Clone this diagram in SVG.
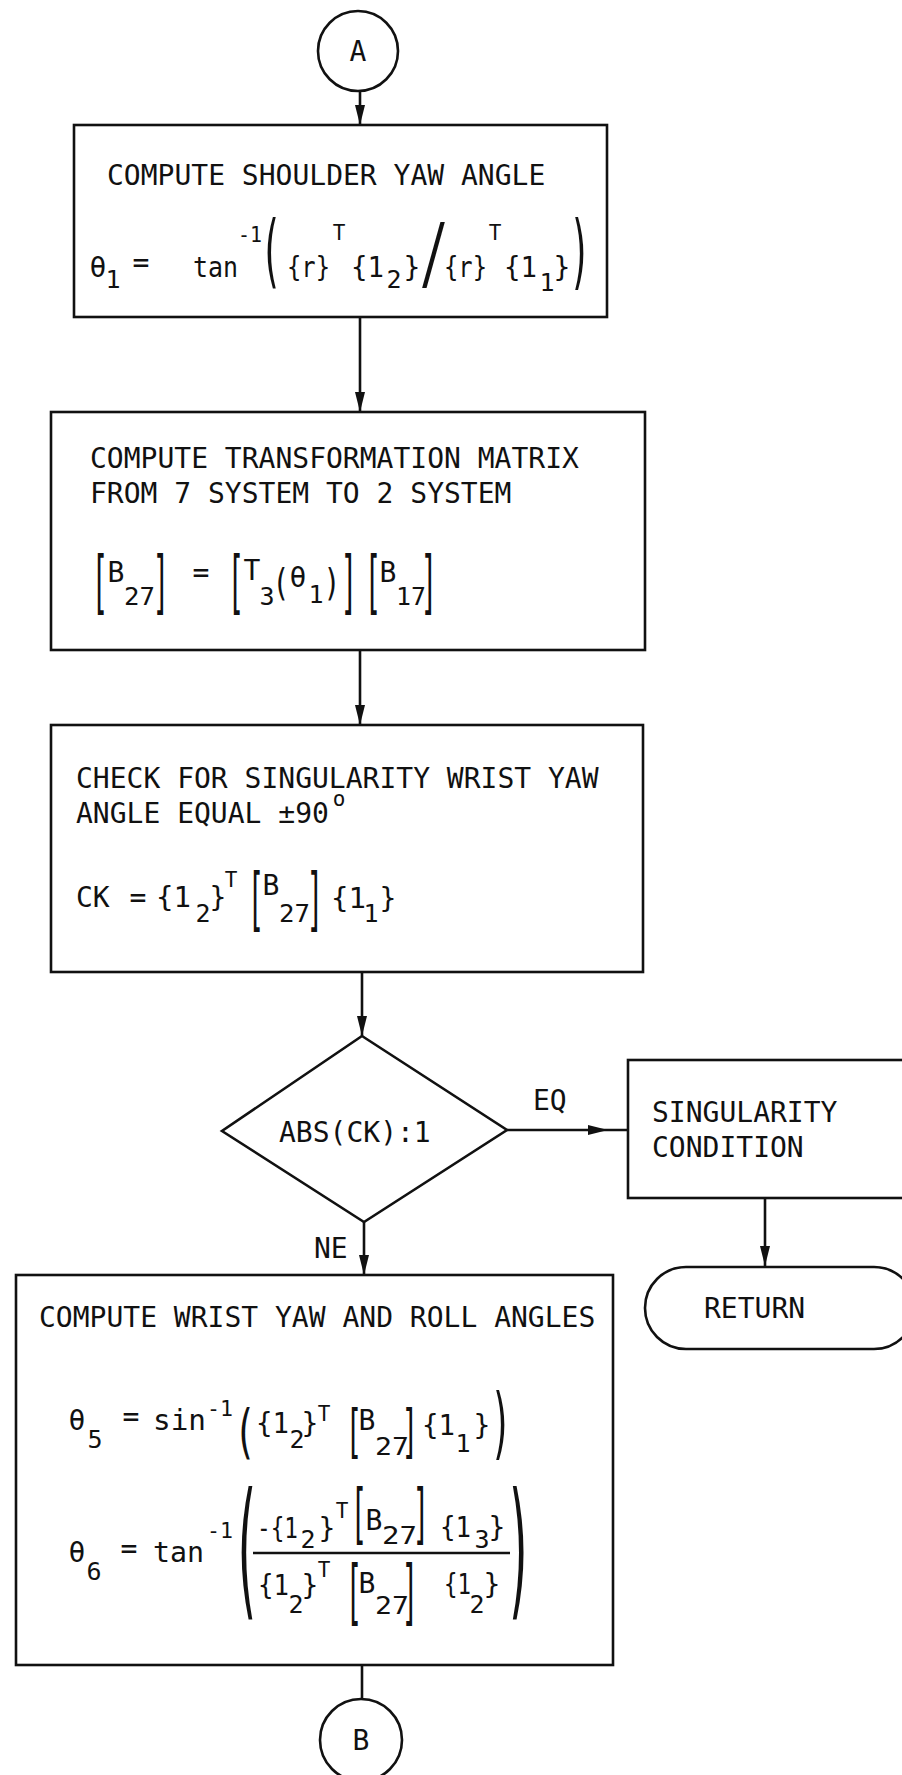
<svg xmlns="http://www.w3.org/2000/svg" width="902" height="1775" viewBox="0 0 902 1775">
<defs>
<marker id="ah" viewBox="0 0 20 10" refX="20" refY="5" markerWidth="20" markerHeight="10" markerUnits="userSpaceOnUse" orient="auto">
<path d="M0,0 L20,5 L0,10 Z" fill="#111"/>
</marker>
<marker id="av" viewBox="0 0 10 20" refX="5" refY="20" markerWidth="10" markerHeight="20" markerUnits="userSpaceOnUse" orient="0">
<path d="M0,0 L10,0 L5,20 Z" fill="#111"/>
</marker>
<style>
.box{fill:#fff;stroke:#111;stroke-width:2.6}
.ln{stroke:#111;stroke-width:2.6;fill:none}
.t,.m,.ml,.sb,.sbl,.sp,.spl{font-family:"DejaVu Sans Mono","Liberation Mono",monospace;fill:#111}
.t,.ml{font-size:28px}
.m{font-size:28px;text-anchor:middle}
.sb{font-size:25px;text-anchor:middle}
.sbl{font-size:25px}
.sp{font-size:21px;text-anchor:middle}
.spl{font-size:21px}
</style>
</defs>
<rect width="902" height="1775" fill="#fff"/>

<g id="connectors">
<line class="ln" x1="360" y1="91" x2="360" y2="125" marker-end="url(#av)"/>
<line class="ln" x1="360" y1="317" x2="360" y2="412" marker-end="url(#av)"/>
<line class="ln" x1="360" y1="650" x2="360" y2="725" marker-end="url(#av)"/>
<line class="ln" x1="362" y1="972" x2="362" y2="1036" marker-end="url(#av)"/>
<line class="ln" x1="364" y1="1222" x2="364" y2="1275" marker-end="url(#av)"/>
<path class="ln" d="M507,1130 L608,1130 L628,1130" marker-mid="url(#ah)"/>
<line class="ln" x1="765" y1="1198" x2="765" y2="1266" marker-end="url(#av)"/>
<line class="ln" x1="362" y1="1665" x2="362" y2="1699"/>
<text class="t" x="533" y="1110">EQ</text>
<text class="t" x="314" y="1258">NE</text>
</g>

<g id="nodeA">
<circle class="box" cx="358" cy="51" r="40"/>
<text class="m" x="358" y="61">A</text>
</g>

<g id="box1">
<rect class="box" x="74" y="125" width="533" height="192"/>
<text class="t" x="107" y="185">COMPUTE SHOULDER YAW ANGLE</text>
<text class="m" x="98" y="277">θ</text>
<text class="sb" x="113" y="288">1</text>
<text class="m" x="141" y="272">=</text>
<text class="ml" x="193" y="277" textLength="45" lengthAdjust="spacingAndGlyphs">tan</text>
<text class="spl" x="238" y="242" textLength="24" lengthAdjust="spacingAndGlyphs">-1</text>
<text class="m" transform="translate(271,278.3) scale(1.3,2.88)">(</text>
<text class="ml" x="287" y="277" textLength="43" lengthAdjust="spacingAndGlyphs">{r}</text>
<text class="sp" x="339" y="240">T</text>
<text class="ml" x="351" y="277" textLength="33" lengthAdjust="spacingAndGlyphs">{1</text>
<text class="sb" x="394" y="288">2</text>
<text class="m" x="412" y="277">}</text>
<text class="m" transform="translate(434,281.3) scale(1.7,2.88)">/</text>
<text class="ml" x="444" y="277" textLength="43" lengthAdjust="spacingAndGlyphs">{r}</text>
<text class="sp" x="495" y="240">T</text>
<text class="ml" x="504" y="277" textLength="33" lengthAdjust="spacingAndGlyphs">{1</text>
<text class="sb" x="547" y="291">1</text>
<text class="m" x="562" y="277">}</text>
<text class="m" transform="translate(580,279.2) scale(1.3,2.92)">)</text>
</g>

<g id="box2">
<rect class="box" x="51" y="412" width="594" height="238"/>
<text class="t" x="90" y="468">COMPUTE TRANSFORMATION MATRIX</text>
<text class="t" x="90" y="503">FROM 7 SYSTEM TO 2 SYSTEM</text>
<text class="m" transform="translate(100,605.8) scale(1,2.48)">[</text>
<text class="m" x="116" y="582">B</text>
<text class="sbl" x="124" y="605" textLength="31" lengthAdjust="spacingAndGlyphs">27</text>
<text class="m" transform="translate(161,605.8) scale(1,2.48)">]</text>
<text class="m" x="201" y="582">=</text>
<text class="m" transform="translate(236,605.8) scale(1,2.48)">[</text>
<text class="m" x="252" y="580">T</text>
<text class="sb" x="267" y="605">3</text>
<text class="m" transform="translate(281,595.1) scale(1,1.32)">(</text>
<text class="m" x="298" y="587">θ</text>
<text class="sb" x="316" y="603">1</text>
<text class="m" transform="translate(332,595.1) scale(1,1.32)">)</text>
<text class="m" transform="translate(349,605.8) scale(1,2.48)">]</text>
<text class="m" transform="translate(373,605.8) scale(1,2.48)">[</text>
<text class="m" x="388" y="582">B</text>
<text class="sbl" x="396" y="605" textLength="30" lengthAdjust="spacingAndGlyphs">17</text>
<text class="m" transform="translate(429,605.8) scale(1,2.48)">]</text>
</g>

<g id="box3">
<rect class="box" x="51" y="725" width="592" height="247"/>
<text class="t" x="76" y="788">CHECK FOR SINGULARITY WRIST YAW</text>
<text class="t" x="76" y="823">ANGLE EQUAL ±90</text>
<text class="sp" x="339" y="806" font-size="18">o</text>
<text class="t" x="76" y="907">CK</text>
<text class="m" x="138" y="907">=</text>
<text class="ml" x="156" y="907" textLength="35" lengthAdjust="spacingAndGlyphs">{1</text>
<text class="sb" x="203" y="922">2</text>
<text class="m" x="218" y="907">}</text>
<text class="sp" x="231" y="887">T</text>
<text class="m" transform="translate(256,922.8) scale(1,2.48)">[</text>
<text class="m" x="271" y="895">B</text>
<text class="sbl" x="279" y="922" textLength="31" lengthAdjust="spacingAndGlyphs">27</text>
<text class="m" transform="translate(315,922.8) scale(1,2.48)">]</text>
<text class="ml" x="331" y="908" textLength="35" lengthAdjust="spacingAndGlyphs">{1</text>
<text class="sb" x="371" y="922">1</text>
<text class="m" x="388" y="908">}</text>
</g>

<g id="decision">
<polygon class="box" points="362,1036 507,1130 364,1222 222,1131"/>
<text class="t" x="279" y="1142">ABS(CK):1</text>
</g>

<g id="singularity">
<rect class="box" x="628" y="1060" width="300" height="138"/>
<text class="t" x="652" y="1122">SINGULARITY</text>
<text class="t" x="652" y="1157">CONDITION</text>
</g>

<g id="return">
<rect class="box" x="645" y="1267" width="270" height="82" rx="41" ry="41"/>
<text class="t" x="704" y="1318">RETURN</text>
</g>

<g id="box4">
<rect class="box" x="16" y="1275" width="597" height="390"/>
<text class="t" x="39" y="1327">COMPUTE WRIST YAW AND ROLL ANGLES</text>
<text class="m" x="77" y="1430">θ</text>
<text class="sb" x="95" y="1448">5</text>
<text class="m" x="131" y="1426">=</text>
<text class="ml" x="153" y="1430" textLength="53" lengthAdjust="spacingAndGlyphs">sin</text>
<text class="spl" x="207" y="1416" textLength="26" lengthAdjust="spacingAndGlyphs">-1</text>
<text class="m" transform="translate(245,1452.2) scale(1.3,2.12)">(</text>
<text class="ml" x="256" y="1433" textLength="33" lengthAdjust="spacingAndGlyphs">{1</text>
<text class="sb" x="297" y="1448">2</text>
<text class="m" x="310" y="1433">}</text>
<text class="sp" x="324" y="1421">T</text>
<text class="m" transform="translate(354,1452.3) scale(1,2.08)">[</text>
<text class="m" x="367" y="1430">B</text>
<text class="sbl" x="375" y="1455" textLength="34" lengthAdjust="spacingAndGlyphs">27</text>
<text class="m" transform="translate(410,1452.3) scale(1,2.08)">]</text>
<text class="ml" x="422" y="1435" textLength="33" lengthAdjust="spacingAndGlyphs">{1</text>
<text class="sb" x="463" y="1452">1</text>
<text class="m" x="482" y="1435">}</text>
<text class="m" transform="translate(501,1449.6) scale(1.3,2.8)">)</text>

<text class="m" x="77" y="1562">θ</text>
<text class="sb" x="94" y="1580">6</text>
<text class="m" x="129" y="1558">=</text>
<text class="ml" x="153" y="1562" textLength="51" lengthAdjust="spacingAndGlyphs">tan</text>
<text class="spl" x="207" y="1538" textLength="26" lengthAdjust="spacingAndGlyphs">-1</text>
<text class="m" transform="translate(246,1600.3) scale(1.7,5.32)">(</text>
<text class="ml" x="257" y="1538" textLength="41" lengthAdjust="spacingAndGlyphs">-{1</text>
<text class="sb" x="308" y="1548">2</text>
<text class="m" x="327" y="1538">}</text>
<text class="sp" x="342" y="1518">T</text>
<text class="m" transform="translate(359,1536.4) scale(1,2.32)">[</text>
<text class="m" x="374" y="1530">B</text>
<text class="sbl" x="382" y="1544" textLength="35" lengthAdjust="spacingAndGlyphs">27</text>
<text class="m" transform="translate(421,1536.4) scale(1,2.32)">]</text>
<text class="ml" x="440" y="1537" textLength="31" lengthAdjust="spacingAndGlyphs">{1</text>
<text class="sb" x="482" y="1548">3</text>
<text class="m" x="497" y="1537">}</text>
<line class="ln" x1="253" y1="1553" x2="510" y2="1553"/>
<text class="ml" x="258" y="1595" textLength="31" lengthAdjust="spacingAndGlyphs">{1</text>
<text class="sb" x="296" y="1613">2</text>
<text class="m" x="310" y="1595">}</text>
<text class="sp" x="324" y="1577">T</text>
<text class="m" transform="translate(354,1615.7) scale(1,2.52)">[</text>
<text class="m" x="367" y="1593">B</text>
<text class="sbl" x="375" y="1614" textLength="34" lengthAdjust="spacingAndGlyphs">27</text>
<text class="m" transform="translate(410,1615.7) scale(1,2.52)">]</text>
<text class="ml" x="444" y="1594" textLength="27" lengthAdjust="spacingAndGlyphs">{1</text>
<text class="sb" x="477" y="1613">2</text>
<text class="m" x="492" y="1594">}</text>
<text class="m" transform="translate(519,1600.3) scale(1.7,5.32)">)</text>
</g>

<g id="nodeB">
<circle class="box" cx="361" cy="1740" r="41"/>
<text class="m" x="361" y="1750">B</text>
</g>
</svg>
